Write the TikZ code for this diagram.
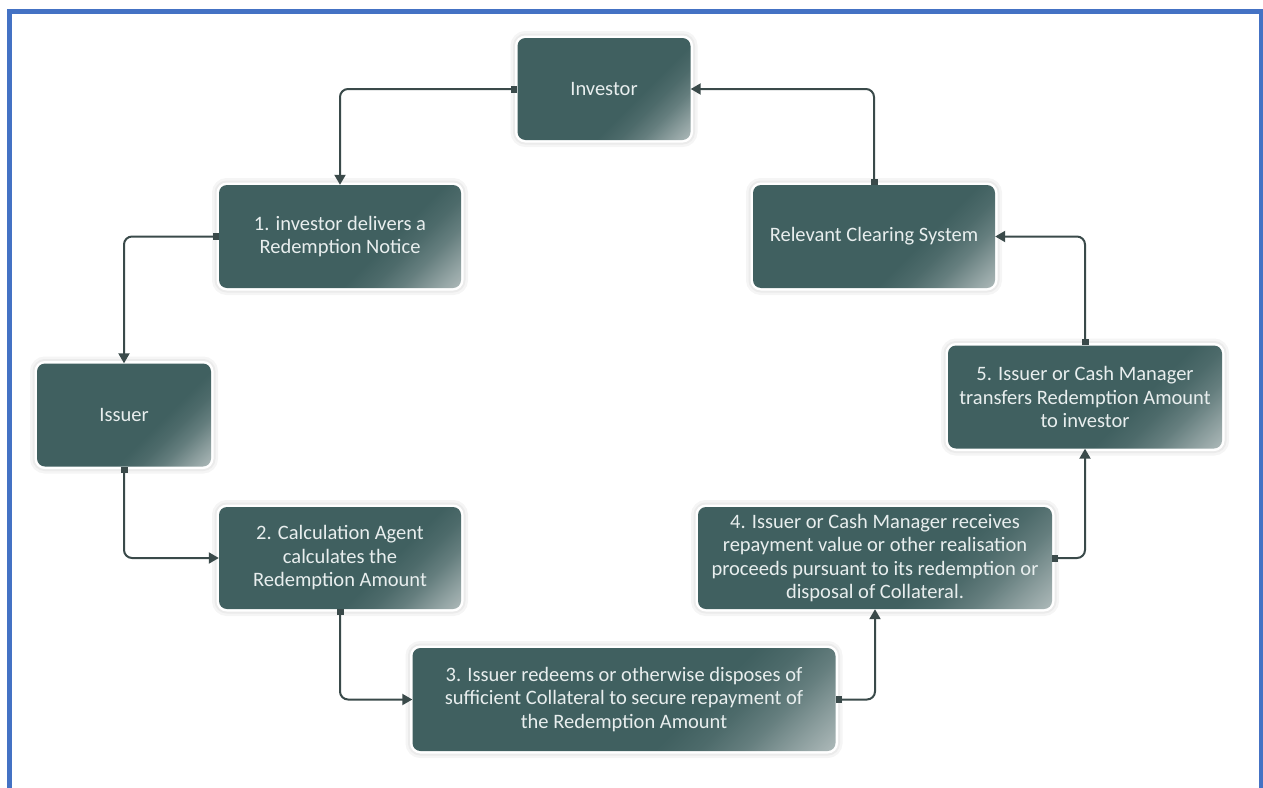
\documentclass[tikz,border=0pt]{standalone}
\usepackage{fontspec}
\setmainfont{Carlito}
\usetikzlibrary{arrows.meta}
\definecolor{boxbase}{RGB}{64,96,96}
\definecolor{boxlight}{RGB}{196,204,204}
\definecolor{conncol}{RGB}{58,74,74}
\definecolor{frameblue}{RGB}{68,114,196}
\definecolor{txtcol}{RGB}{232,238,238}
\pgfdeclareverticalshading{boxglow}{100bp}{color(0bp)=(boxlight); color(14bp)=(boxlight!85!boxbase); color(21bp)=(boxlight!55!boxbase); color(27bp)=(boxlight!28!boxbase); color(33bp)=(boxlight!10!boxbase); color(39bp)=(boxbase); color(100bp)=(boxbase)}
\begin{document}
\begin{tikzpicture}[x=1pt,y=-1pt,
  box/.style={rounded corners=8pt, shading=boxglow, shading angle=45,
    text=txtcol, align=center, font=\fontsize{20.5}{23.5}\selectfont, inner sep=0pt,
    preaction={draw=black!4,line width=14pt},
    preaction={draw=black!8,line width=9pt},
    preaction={draw=white,line width=5pt}},
  conn/.style={draw=conncol, line width=2pt, rounded corners=8pt,
    arrows={Square[length=6pt,width=7pt]-Triangle[length=10pt,width=11pt]}}]
\useasboundingbox (0,0) rectangle (1263,787);
\draw[frameblue, line width=5pt] (9.5,790) -- (9.5,11.5) -- (1261.5,11.5) -- (1261.5,790);

\node[box, minimum width=173pt, minimum height=102pt] (inv) at (604,89) {Investor};
\node[box, minimum width=242pt, minimum height=103pt] (b1) at (340,236.5) {1. investor delivers a\\Redemption Notice};
\node[box, minimum width=174pt, minimum height=103pt] (iss) at (124,415) {Issuer};
\node[box, minimum width=242pt, minimum height=102pt] (b2) at (340,558) {2. Calculation Agent\\calculates the\\Redemption Amount};
\node[box, minimum width=423pt, minimum height=103pt] (b3) at (624,699.5) {3. Issuer redeems or otherwise disposes of\\sufficient Collateral to secure repayment of\\the Redemption Amount};
\node[box, minimum width=354pt, minimum height=102pt] (b4) at (875,558) {4. Issuer or Cash Manager receives\\repayment value or other realisation\\proceeds pursuant to its redemption or\\disposal of Collateral.};
\node[box, minimum width=274pt, minimum height=103pt] (b5) at (1085,397) {5. Issuer or Cash Manager\\transfers Redemption Amount\\to investor};
\node[box, minimum width=242pt, minimum height=103pt] (rcs) at (874,236.5) {Relevant Clearing System};

\draw[conn] (inv.west) -| (b1.north);
\draw[conn] (b1.west) -| (iss.north);
\draw[conn] (iss.south) |- (b2.west);
\draw[conn] (b2.south) |- (b3.west);
\draw[conn] (b3.east) -| (b4.south);
\draw[conn] (b4.east) -| (b5.south);
\draw[conn] (b5.north) |- (rcs.east);
\draw[conn] (rcs.north) |- (inv.east);
\end{tikzpicture}
\end{document}
